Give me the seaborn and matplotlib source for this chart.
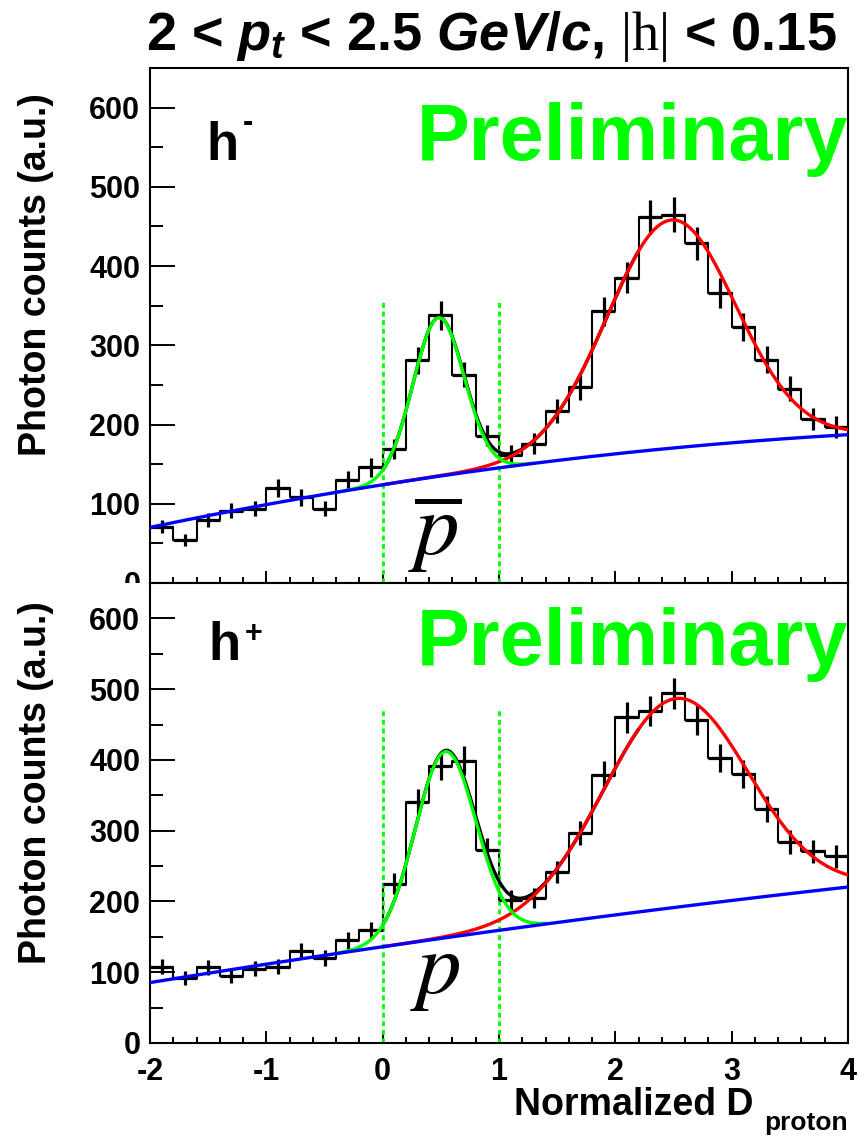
import matplotlib

matplotlib.use("Agg")
import matplotlib.pyplot as plt
from matplotlib.transforms import Bbox, TransformedBbox
import numpy as np
import pandas as pd
import seaborn as sns

# histogram binning: 30 bins on [-2, 4]
X_LO, X_HI, N_BINS = -2.0, 4.0, 30

# h- panel (antiproton)
counts_neg = [71, 54, 80, 91, 94, 120, 108, 94, 130, 146,
              169, 281, 338, 263, 186, 162, 176, 217, 247, 343,
              385, 462, 465, 429, 366, 323, 282, 245, 207, 197]
errors_neg = [8.4, 7.3, 8.9, 9.5, 9.7, 11.0, 10.4, 9.7, 11.4, 12.1,
              13.0, 16.8, 18.4, 16.2, 13.6, 12.7, 13.3, 14.7, 15.7, 18.5,
              19.6, 21.5, 21.6, 20.7, 19.1, 18.0, 16.8, 15.7, 14.4, 14.0]

# h+ panel (proton)
counts_pos = [108, 92, 107, 95, 105, 108, 130, 120, 145, 159,
              225, 340, 391, 399, 273, 202, 205, 242, 297, 379,
              460, 469, 494, 456, 403, 380, 331, 284, 271, 264]
errors_pos = [10.4, 9.6, 10.3, 9.7, 10.2, 10.4, 11.4, 11.0, 12.0, 12.6,
              15.0, 18.4, 19.8, 20.0, 16.5, 14.2, 14.3, 15.6, 17.2, 19.5,
              21.4, 21.7, 22.2, 21.4, 20.1, 19.5, 18.2, 16.9, 16.5, 16.2]

# fit results: background quadratic (c0, c1, c2), gaussians (amp, mean, sigma)
bkg_neg = [124.0, 23.2, -1.85]
bkg_pos = [136.0, 23.9, -0.70]
gaus_pbar = [200.0, 0.48, 0.22]
gaus_p = [263.0, 0.54, 0.26]
gaus_pi_neg = [288.0, 2.48, 0.55]
gaus_pi_pos = [295.0, 2.52, 0.62]
proton_range_neg = [-0.4, 1.3]
proton_range_pos = [-0.4, 1.4]
pion_range = [0.0, 4.0]
total_range = [0.0, 2.2]

# proton selection window and the height the cut lines are drawn to
cut_window = [0.0, 1.0]
cut_height_neg = 357
cut_height_pos = 470

GREEN = "#00FF00"
SANS = ["Liberation Sans", "DejaVu Sans"]

sns.set_theme(style="ticks")
plt.rcParams["font.family"] = SANS
plt.rcParams["text.color"] = "black"
plt.rcParams["axes.labelcolor"] = "black"
plt.rcParams["xtick.color"] = "black"
plt.rcParams["ytick.color"] = "black"
plt.rcParams["axes.unicode_minus"] = False
plt.rcParams["mathtext.fontset"] = "custom"
plt.rcParams["mathtext.rm"] = "Liberation Sans:bold"
plt.rcParams["mathtext.bf"] = "Liberation Sans:bold"
plt.rcParams["mathtext.it"] = "Liberation Sans:italic:bold"
plt.rcParams["mathtext.sf"] = "Liberation Serif"


def bkg(x, p):
    return p[0] + p[1] * x + p[2] * x ** 2


def gaus(x, p):
    return p[0] * np.exp(-0.5 * ((x - p[1]) / p[2]) ** 2)


def draw_panel(ax, counts, errors, bkg_p, g_p, g_pi, p_range, cut_h):
    edges = np.linspace(X_LO, X_HI, N_BINS + 1)
    centers = 0.5 * (edges[:-1] + edges[1:])
    half = 0.5 * (edges[1] - edges[0])
    df = pd.DataFrame({"x": centers, "n": counts, "err": errors})

    sns.histplot(data=df, x="x", weights="n", bins=N_BINS, binrange=(X_LO, X_HI),
                 element="step", fill=False, color="black", linewidth=1.5, ax=ax)
    ax.errorbar(df["x"], df["n"], yerr=df["err"], xerr=half, fmt="none",
                ecolor="black", elinewidth=2.3, capsize=0, zorder=3)

    xt = np.linspace(total_range[0], total_range[1], 300)
    xp = np.linspace(p_range[0], p_range[1], 300)
    xpi = np.linspace(pion_range[0], pion_range[1], 400)
    xb = np.linspace(X_LO, X_HI, 400)
    lw = 2.4
    sns.lineplot(x=xt, y=bkg(xt, bkg_p) + gaus(xt, g_p) + gaus(xt, g_pi),
                 color="black", linewidth=lw, sort=False, estimator=None, ax=ax, zorder=4)
    sns.lineplot(x=xpi, y=bkg(xpi, bkg_p) + gaus(xpi, g_pi),
                 color="#FF0000", linewidth=lw, sort=False, estimator=None, ax=ax, zorder=5)
    sns.lineplot(x=xp, y=bkg(xp, bkg_p) + gaus(xp, g_p),
                 color=GREEN, linewidth=lw, sort=False, estimator=None, ax=ax, zorder=6)
    sns.lineplot(x=xb, y=bkg(xb, bkg_p),
                 color="#0000FF", linewidth=lw, sort=False, estimator=None, ax=ax, zorder=7)

    ax.vlines(cut_window, 0, cut_h, colors=GREEN, linestyles=(0, (1.8, 1.3)),
              linewidth=2.0, zorder=2)

    ax.set_xlim(X_LO, X_HI)
    ax.set_ylim(0, 650)
    ax.set_xticks(np.arange(-2, 5, 1))
    ax.set_xticks(np.arange(-2, 4.01, 0.2), minor=True)
    ax.set_yticks(np.arange(0, 601, 100))
    ax.set_yticks(np.arange(0, 651, 50), minor=True)
    ax.tick_params(axis="both", which="both", direction="in", width=1.4,
                   top=False, right=False, labelsize=22, color="black",
                   labelcolor="black")
    ax.tick_params(axis="x", which="major", length=8.5, pad=10)
    ax.tick_params(axis="x", which="minor", length=4.3)
    ax.tick_params(axis="y", which="major", length=18, pad=7)
    ax.tick_params(axis="y", which="minor", length=9)
    for lab in ax.get_xticklabels() + ax.get_yticklabels():
        lab.set_fontweight("bold")
    for sp in ax.spines.values():
        sp.set_visible(True)
        sp.set_linewidth(1.5)
        sp.set_color("black")
    ax.set_xlabel("")
    ax.set_ylabel("Photon counts (a.u.)", fontsize=27, fontweight="bold")


fig = plt.figure(figsize=(8.6, 11.38), dpi=100)
ax_top = fig.add_axes([150 / 860, 1 - 583 / 1138, 698 / 860, 515 / 1138])
ax_bot = fig.add_axes([150 / 860, 1 - 1043 / 1138, 698 / 860, 460 / 1138])

draw_panel(ax_top, counts_neg, errors_neg, bkg_neg, gaus_pbar, gaus_pi_neg,
           proton_range_neg, cut_height_neg)
draw_panel(ax_bot, counts_pos, errors_pos, bkg_pos, gaus_p, gaus_pi_pos,
           proton_range_pos, cut_height_pos)

ax_top.tick_params(axis="x", labelbottom=False)
ax_top.yaxis.set_label_coords(-0.138, 0.598)
ax_bot.yaxis.set_label_coords(-0.138, 0.567)

# the top pad's "0" label is cut by the lower pad
clip = TransformedBbox(Bbox([[0, 1 - 583 / 1138], [1, 1]]), fig.transFigure)
for t in ax_top.yaxis.get_major_ticks():
    t.label1.set_clip_box(clip)
    t.label1.set_clip_on(True)

# panel annotations
for ax, yb in ((ax_top, 0.821), (ax_bot, 0.822)):
    ax.text(1.0, yb, "Preliminary", transform=ax.transAxes, ha="right",
            va="baseline", color=GREEN, fontsize=57, fontweight="bold", zorder=10)

ax_top.text(0.081, 0.821, "h", transform=ax_top.transAxes, ha="left",
            va="baseline", fontsize=38, fontweight="bold")
ax_top.text(0.133, 0.878, "-", transform=ax_top.transAxes, ha="left",
            va="baseline", fontsize=22, fontweight="bold")
ax_bot.text(0.084, 0.833, "h", transform=ax_bot.transAxes, ha="left",
            va="baseline", fontsize=38, fontweight="bold")
ax_bot.text(0.136, 0.872, "+", transform=ax_bot.transAxes, ha="left",
            va="baseline", fontsize=22, fontweight="bold")

ax_top.text(0.37, 0.054, r"$\overline{p}$", transform=ax_top.transAxes,
            ha="left", va="baseline", fontsize=64, math_fontfamily="stix")
ax_bot.text(0.373, 0.109, r"$p$", transform=ax_bot.transAxes,
            ha="left", va="baseline", fontsize=64, math_fontfamily="stix")

fig.text(491 / 860, 1 - 50 / 1138,
         r"2 < $p_t$ < 2.5 $GeV/c$, $\mathsf{|h|}$ < 0.15",
         ha="center", va="baseline", fontsize=39, fontweight="bold")
fig.text(753 / 860, 1 - 1115 / 1138, "Normalized D", ha="right", va="baseline",
         fontsize=27, fontweight="bold")
fig.text(848 / 860, 1 - 1130 / 1138, "proton", ha="right", va="baseline",
         fontsize=19, fontweight="bold")

fig.savefig("out.png", dpi=100, facecolor="white")
plt.close(fig)
